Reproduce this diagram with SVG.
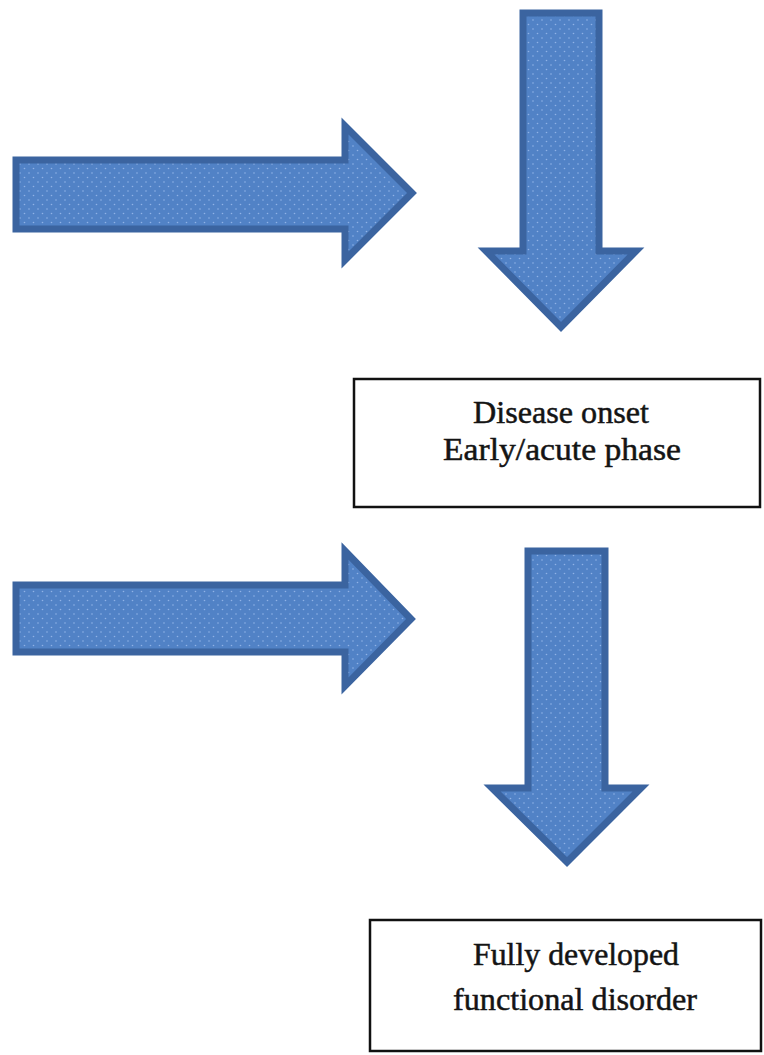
<svg xmlns="http://www.w3.org/2000/svg" width="764" height="1055" viewBox="0 0 764 1055">
<style>
.arrow{fill:url(#dots);stroke:#3B64A0;stroke-width:7;stroke-linejoin:miter}
.box{fill:#fff;stroke:#111;stroke-width:2.5}
.lbl{font-family:"Liberation Serif","Times New Roman",serif;font-size:32px;fill:#141414;stroke:#141414;stroke-width:0.5;text-anchor:middle}
</style>
<defs>
<pattern id="dots" width="9" height="9" patternUnits="userSpaceOnUse">
<rect width="9" height="9" fill="#5182C6"/>
<circle cx="2" cy="2" r="0.8" fill="#8FB2E6"/>
<circle cx="6.5" cy="6.5" r="0.8" fill="#8FB2E6"/>
</pattern>
</defs>
<rect width="764" height="1055" fill="#fff"/>
<g id="connectors">
<polygon class="arrow" points="16,160 345,160 345,126 412,193 345,260 345,229 16,229"/>
<polygon class="arrow" points="523,13 599,13 599,251 636,251 561,327 486,251 523,251"/>
<polygon class="arrow" points="16,585 345,585 345,551 411,619 345,686 345,652 16,652"/>
<polygon class="arrow" points="528,551 605,551 605,788 641,788 567,862 492,788 528,788"/>
</g>
<g id="node-onset">
<rect class="box" x="354" y="379" width="406" height="128"/>
<text class="lbl" x="561" y="423" textLength="176" lengthAdjust="spacingAndGlyphs">Disease onset</text>
<text class="lbl" x="562" y="460" textLength="238" lengthAdjust="spacingAndGlyphs">Early/acute phase</text>
</g>
<g id="node-disorder">
<rect class="box" x="370" y="920" width="391" height="131"/>
<text class="lbl" x="576" y="965" textLength="206" lengthAdjust="spacingAndGlyphs">Fully developed</text>
<text class="lbl" x="575" y="1010" textLength="244" lengthAdjust="spacingAndGlyphs">functional disorder</text>
</g>
</svg>
